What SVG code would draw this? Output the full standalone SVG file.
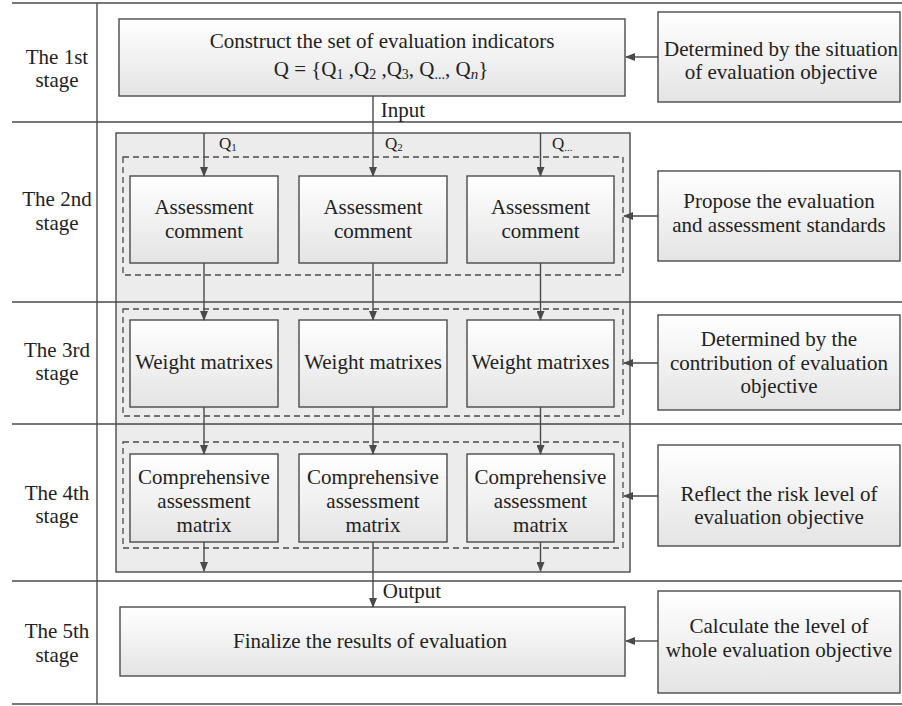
<svg xmlns="http://www.w3.org/2000/svg" width="902" height="706" viewBox="0 0 902 706">
<defs>
<linearGradient id="g" x1="0" y1="0" x2="0" y2="1">
<stop offset="0" stop-color="#ffffff"/>
<stop offset="1" stop-color="#e4e4e4"/>
</linearGradient>
<marker id="ah" markerWidth="10" markerHeight="8" refX="9" refY="4" orient="auto" markerUnits="userSpaceOnUse">
<path d="M0,0 L10,4 L0,8 Z" fill="#4a4a4a"/>
</marker>
<style>
.t{font-family:"Liberation Serif","Times New Roman",serif;font-size:21px;fill:#222;text-anchor:middle}
.s{font-family:"Liberation Serif","Times New Roman",serif;font-size:17px;fill:#222}
.box{fill:url(#g);stroke:#4a4a4a;stroke-width:1.4}
.grid{stroke:#4a4a4a;stroke-width:1.4;fill:none}
.dash{fill:none;stroke:#4a4a4a;stroke-width:1.3;stroke-dasharray:6 4}
.c{stroke:#4a4a4a;stroke-width:1.4;fill:none;marker-end:url(#ah)}
</style>
</defs>
<rect width="902" height="706" fill="#fff"/>

<g id="container">
<rect x="116" y="133" width="514" height="439" fill="#ececec" stroke="#4a4a4a" stroke-width="1.4"/>
</g>

<g id="grid">
<line class="grid" x1="12" y1="3" x2="902" y2="3"/>
<line class="grid" x1="12" y1="122" x2="902" y2="122"/>
<line class="grid" x1="12" y1="302" x2="902" y2="302"/>
<line class="grid" x1="12" y1="424" x2="902" y2="424"/>
<line class="grid" x1="12" y1="581" x2="902" y2="581"/>
<line class="grid" x1="12" y1="704" x2="902" y2="704"/>
<line class="grid" x1="97" y1="3" x2="97" y2="704"/>
</g>

<g id="stage-labels">
<text class="t" x="57" y="64">The 1st</text><text class="t" x="57" y="87">stage</text>
<text class="t" x="57" y="206">The 2nd</text><text class="t" x="57" y="230">stage</text>
<text class="t" x="57" y="357">The 3rd</text><text class="t" x="57" y="380">stage</text>
<text class="t" x="57" y="500">The 4th</text><text class="t" x="57" y="523">stage</text>
<text class="t" x="57" y="638">The 5th</text><text class="t" x="57" y="662">stage</text>
</g>

<g id="dashed-groups">
<rect class="dash" x="123" y="157" width="500" height="118"/>
<rect class="dash" x="123" y="309" width="500" height="107"/>
<rect class="dash" x="123" y="442" width="500" height="106"/>
</g>

<g id="construct">
<rect class="box" x="119" y="19" width="506" height="77"/>
<text class="t" x="382" y="48">Construct the set of evaluation indicators</text>
<text class="t" x="381" y="76" font-size="22">Q = {Q<tspan font-size="14" dy="3">1</tspan><tspan dy="-3"> ,Q</tspan><tspan font-size="14" dy="3">2</tspan><tspan dy="-3"> ,Q</tspan><tspan font-size="14" dy="3">3</tspan><tspan dy="-3">, Q</tspan><tspan font-size="14" dy="3">...</tspan><tspan dy="-3">, Q</tspan><tspan font-size="15" dy="3" font-style="italic">n</tspan><tspan dy="-3">}</tspan></text>
</g>

<g id="src1">
<rect class="box" x="658" y="12" width="242" height="90"/>
<text class="t" x="781" y="56">Determined by the situation</text>
<text class="t" x="781" y="79">of evaluation objective</text>
</g>

<g id="ac1"><rect class="box" x="130" y="176" width="148" height="87"/><text class="t" x="204" y="214">Assessment</text><text class="t" x="204" y="238">comment</text></g>
<g id="ac2"><rect class="box" x="299" y="176" width="148" height="87"/><text class="t" x="373" y="214">Assessment</text><text class="t" x="373" y="238">comment</text></g>
<g id="ac3"><rect class="box" x="467" y="176" width="147" height="87"/><text class="t" x="540.5" y="214">Assessment</text><text class="t" x="540.5" y="238">comment</text></g>

<g id="src2">
<rect class="box" x="658" y="171" width="242" height="90"/>
<text class="t" x="779" y="208">Propose the evaluation</text>
<text class="t" x="779" y="232">and assessment standards</text>
</g>

<g id="wm1"><rect class="box" x="130" y="320" width="148" height="87"/><text class="t" x="204" y="369">Weight matrixes</text></g>
<g id="wm2"><rect class="box" x="299" y="320" width="148" height="87"/><text class="t" x="373" y="369">Weight matrixes</text></g>
<g id="wm3"><rect class="box" x="467" y="320" width="147" height="87"/><text class="t" x="540.5" y="369">Weight matrixes</text></g>

<g id="src3">
<rect class="box" x="658" y="315" width="242" height="95"/>
<text class="t" x="779" y="346">Determined by the</text>
<text class="t" x="779" y="370">contribution of evaluation</text>
<text class="t" x="779" y="393">objective</text>
</g>

<g id="cm1"><rect class="box" x="130" y="454" width="148" height="88"/><text class="t" x="204" y="484">Comprehensive</text><text class="t" x="204" y="508">assessment</text><text class="t" x="204" y="532">matrix</text></g>
<g id="cm2"><rect class="box" x="299" y="454" width="148" height="88"/><text class="t" x="373" y="484">Comprehensive</text><text class="t" x="373" y="508">assessment</text><text class="t" x="373" y="532">matrix</text></g>
<g id="cm3"><rect class="box" x="467" y="454" width="147" height="88"/><text class="t" x="540.5" y="484">Comprehensive</text><text class="t" x="540.5" y="508">assessment</text><text class="t" x="540.5" y="532">matrix</text></g>

<g id="src4">
<rect class="box" x="658" y="445" width="242" height="101"/>
<text class="t" x="779" y="501">Reflect the risk level of</text>
<text class="t" x="779" y="524">evaluation objective</text>
</g>

<g id="finalize">
<rect class="box" x="120" y="607" width="505" height="69"/>
<text class="t" x="370" y="648">Finalize the results of evaluation</text>
</g>

<g id="src5">
<rect class="box" x="658" y="591" width="242" height="102"/>
<text class="t" x="779" y="633">Calculate the level of</text>
<text class="t" x="779" y="657">whole evaluation objective</text>
</g>

<g id="connectors">
<line class="c" x1="658" y1="57" x2="626" y2="57"/>
<line class="c" x1="373" y1="96" x2="373" y2="176"/>
<line class="c" x1="204" y1="133" x2="204" y2="176"/>
<line class="c" x1="540.5" y1="133" x2="540.5" y2="176"/>
<line class="c" x1="658" y1="216" x2="624" y2="216"/>
<line class="c" x1="204" y1="263" x2="204" y2="320"/>
<line class="c" x1="373" y1="263" x2="373" y2="320"/>
<line class="c" x1="540.5" y1="263" x2="540.5" y2="320"/>
<line class="c" x1="658" y1="363" x2="624" y2="363"/>
<line class="c" x1="204" y1="407" x2="204" y2="454"/>
<line class="c" x1="373" y1="407" x2="373" y2="454"/>
<line class="c" x1="540.5" y1="407" x2="540.5" y2="454"/>
<line class="c" x1="658" y1="496" x2="624" y2="496"/>
<line class="c" x1="204" y1="542" x2="204" y2="571"/>
<line class="c" x1="540.5" y1="542" x2="540.5" y2="571"/>
<line class="c" x1="373" y1="542" x2="373" y2="607"/>
<line class="c" x1="658" y1="641" x2="626" y2="641"/>
<text class="t" x="403" y="117">Input</text>
<text class="t" x="412" y="598">Output</text>
<text class="s" x="219" y="149">Q<tspan font-size="11" dy="2">1</tspan></text>
<text class="s" x="385" y="149">Q<tspan font-size="11" dy="2">2</tspan></text>
<text class="s" x="552" y="149">Q<tspan font-size="11" dy="2">...</tspan></text>
</g>
</svg>
